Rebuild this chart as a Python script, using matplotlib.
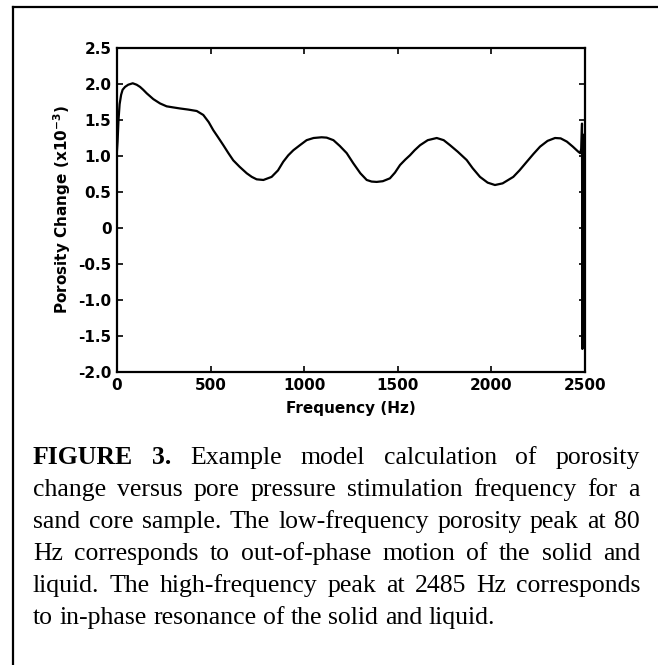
import matplotlib
matplotlib.use("Agg")
import matplotlib.pyplot as plt
from matplotlib.lines import Line2D

# Datos (frecuencia en Hz, cambio de porosidad x10^-3)
freq = [0, 3, 8, 14, 22, 30, 43, 60, 84, 105, 123, 140, 159, 194, 230, 265, 300, 337,
        380, 426, 461, 490, 514, 540, 568, 595, 621, 655, 693, 720, 746, 782, 826,
        860, 888, 915, 942, 977, 1013, 1050, 1093, 1120, 1156, 1190, 1227, 1262,
        1300, 1334, 1360, 1387, 1420, 1458, 1485, 1512, 1540, 1565, 1590, 1619,
        1660, 1708, 1745, 1779, 1820, 1868, 1900, 1939, 1980, 2019, 2060, 2117,
        2150, 2189, 2225, 2260, 2300, 2340, 2370, 2403, 2435, 2464, 2474, 2480,
        2484, 2486, 2488, 2490, 2492, 2494, 2496, 2498, 2500]
porosity = [1.08, 1.2, 1.5, 1.72, 1.85, 1.92, 1.96, 1.99, 2.01, 1.99, 1.96, 1.92, 1.87,
            1.79, 1.73, 1.69, 1.675, 1.66, 1.645, 1.625, 1.57, 1.47, 1.36, 1.26,
            1.15, 1.04, 0.94, 0.85, 0.76, 0.71, 0.676, 0.667, 0.71, 0.8, 0.92, 1.01,
            1.08, 1.15, 1.22, 1.25, 1.26, 1.255, 1.22, 1.14, 1.04, 0.9, 0.76, 0.667,
            0.645, 0.64, 0.65, 0.69, 0.77, 0.875, 0.95, 1.01, 1.08, 1.15, 1.22, 1.25,
            1.22, 1.15, 1.06, 0.944, 0.83, 0.71, 0.63, 0.597, 0.62, 0.71, 0.8, 0.92,
            1.03, 1.13, 1.21, 1.25, 1.245, 1.2, 1.13, 1.06, 1.04, 1.1,
            1.45, -1.68, 1.3, -1.2, 1.1, -1.5, 0.9, -0.6, 1.0]

xticks = [0, 500, 1000, 1500, 2000, 2500]
yticks = [-2.0, -1.5, -1.0, -0.5, 0, 0.5, 1.0, 1.5, 2.0, 2.5]
yticklabels = ['-2.0', '-1.5', '-1.0', '-0.5', '0', '0.5', '1.0', '1.5', '2.0', '2.5']

caption_lines = [
    "FIGURE 3. Example model calculation of porosity",
    "change versus pore pressure stimulation frequency for a",
    "sand core sample. The low-frequency porosity peak at 80",
    "Hz corresponds to out-of-phase motion of the solid and",
    "liquid. The high-frequency peak at 2485 Hz corresponds",
    "to in-phase resonance of the solid and liquid.",
]

W, H = 658, 665
fig = plt.figure(figsize=(W / 100, H / 100), dpi=100)

# Ejes del grafico (en pixeles de la imagen original)
ax_l, ax_r, ax_t, ax_b = 117, 585, 48, 372
ax = fig.add_axes([ax_l / W, 1 - ax_b / H, (ax_r - ax_l) / W, (ax_b - ax_t) / H])
ax.plot(freq, porosity, color='black', linewidth=1.6)
ax.set_xlim(0, 2500)
ax.set_ylim(-2.0, 2.5)
ax.set_xticks(xticks)
ax.set_xticklabels([str(t) for t in xticks])
ax.set_yticks(yticks)
ax.set_yticklabels(yticklabels)
ax.tick_params(direction='in', top=True, right=True, length=4, width=1.2,
               labelsize=11, pad=4)
for lbl in ax.get_xticklabels() + ax.get_yticklabels():
    lbl.set_fontweight('bold')
    lbl.set_family('DejaVu Sans')
for s in ax.spines.values():
    s.set_linewidth(1.6)

ax.set_xlabel('Frequency (Hz)', fontsize=11, fontweight='bold',
              family='DejaVu Sans', labelpad=6)
ax.set_ylabel(r'Porosity Change (x10$^{\mathbf{-3}}$)', fontsize=11, fontweight='bold',
              family='DejaVu Sans', labelpad=4)

# Marco de la pagina escaneada
fig.add_artist(Line2D([13 / W, 1.0], [1 - 7 / H, 1 - 7 / H], color='black',
                      linewidth=1.6, transform=fig.transFigure))
fig.add_artist(Line2D([13 / W, 13 / W], [1 - 7 / H, 0.0], color='black',
                      linewidth=1.6, transform=fig.transFigure))

# Leyenda de la figura, justificada
x0, x1 = 33, 640
baselines = [464, 496, 528, 560, 592, 624]
fs = 18.5
renderer = fig.canvas.get_renderer()
for i, line in enumerate(caption_lines):
    words = line.split(' ')
    texts = []
    for j, w in enumerate(words):
        bold = i == 0 and j < 2
        t = fig.text(0, 1 - baselines[i] / H, w, fontsize=fs, family='Liberation Serif',
                     fontweight='bold' if bold else 'normal', va='baseline', ha='left')
        texts.append(t)
    widths = [t.get_window_extent(renderer).width for t in texts]
    if i < len(caption_lines) - 1:
        gap = (x1 - x0 - sum(widths)) / (len(words) - 1)
    else:
        gap = fs * 0.25 * 100 / 72
    x = x0
    for t, wd in zip(texts, widths):
        t.set_x(x / W)
        x += wd + gap

fig.savefig('out.png', dpi=100)
